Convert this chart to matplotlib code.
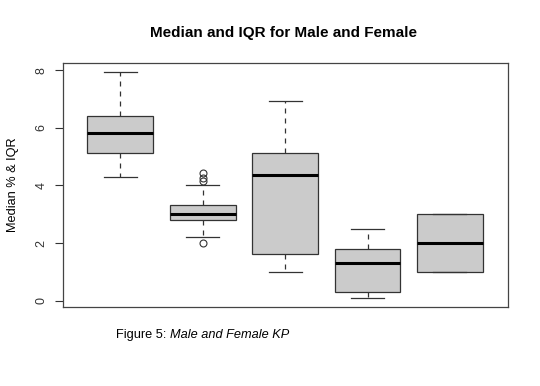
import matplotlib.pyplot as plt

plt.rcParams["font.family"] = ["Liberation Sans", "DejaVu Sans"]

# five-number summaries
positions = [1, 2, 3, 4, 5]
lower_whisker = [4.31, 2.21, 0.99, 0.09, 0.99]
q1 = [5.11, 2.81, 1.61, 0.29, 0.99]
median = [5.82, 3.02, 4.36, 1.31, 2.01]
q3 = [6.41, 3.31, 5.11, 1.79, 3.00]
upper_whisker = [7.93, 4.01, 6.92, 2.50, 3.00]
outliers = [[], [4.42, 4.26, 4.16, 2.01], [], [], []]

yticks = [0, 2, 4, 6, 8]


def main():
    stats = []
    for i in range(len(positions)):
        stats.append({
            "whislo": lower_whisker[i],
            "q1": q1[i],
            "med": median[i],
            "q3": q3[i],
            "whishi": upper_whisker[i],
            "fliers": outliers[i],
        })

    fig = plt.figure(figsize=(5.4, 3.86), dpi=100)
    ax = fig.add_axes([0.116, 0.2054, 0.824, 0.6306])

    ax.bxp(
        stats,
        positions=positions,
        widths=0.8,
        capwidths=0.4,
        patch_artist=True,
        boxprops=dict(facecolor="#cbcbcb", edgecolor="#333333", linewidth=0.9),
        medianprops=dict(color="black", linewidth=2.2, solid_capstyle="butt"),
        whiskerprops=dict(color="#333333", linewidth=0.9, linestyle=(0, (4, 4))),
        capprops=dict(color="#333333", linewidth=0.9),
        flierprops=dict(marker="o", markerfacecolor="none", markeredgecolor="#333333",
                        markersize=5, markeredgewidth=0.8),
    )

    ax.set_xlim(0.3, 5.7)
    ax.set_ylim(-0.213, 8.243)
    ax.set_xticks([])
    ax.set_yticks(yticks)
    ax.set_yticklabels([str(t) for t in yticks], rotation=90, va="center", fontsize=9)
    ax.tick_params(axis="y", length=6, width=0.8, pad=5, colors="#333333")
    for sp in ax.spines.values():
        sp.set_color("#444444")
        sp.set_linewidth(0.9)

    ax.set_ylabel("Median % & IQR", fontsize=9.2, labelpad=12)
    fig.text(0.525, 0.915, "Median and IQR for Male and Female",
             ha="center", va="center", fontsize=11, fontweight="bold")

    # caption: plain prefix followed by italic text
    t1 = fig.text(0.215, 0.132, "Figure 5: ", ha="left", va="center", fontsize=9.2)
    fig.canvas.draw()
    bb = t1.get_window_extent()
    x_next = bb.x1 / fig.bbox.width
    fig.text(x_next, 0.132, "Male and Female KP", ha="left", va="center",
             fontsize=9.2, style="italic")

    fig.savefig("out.png", dpi=100)


if __name__ == "__main__":
    main()
